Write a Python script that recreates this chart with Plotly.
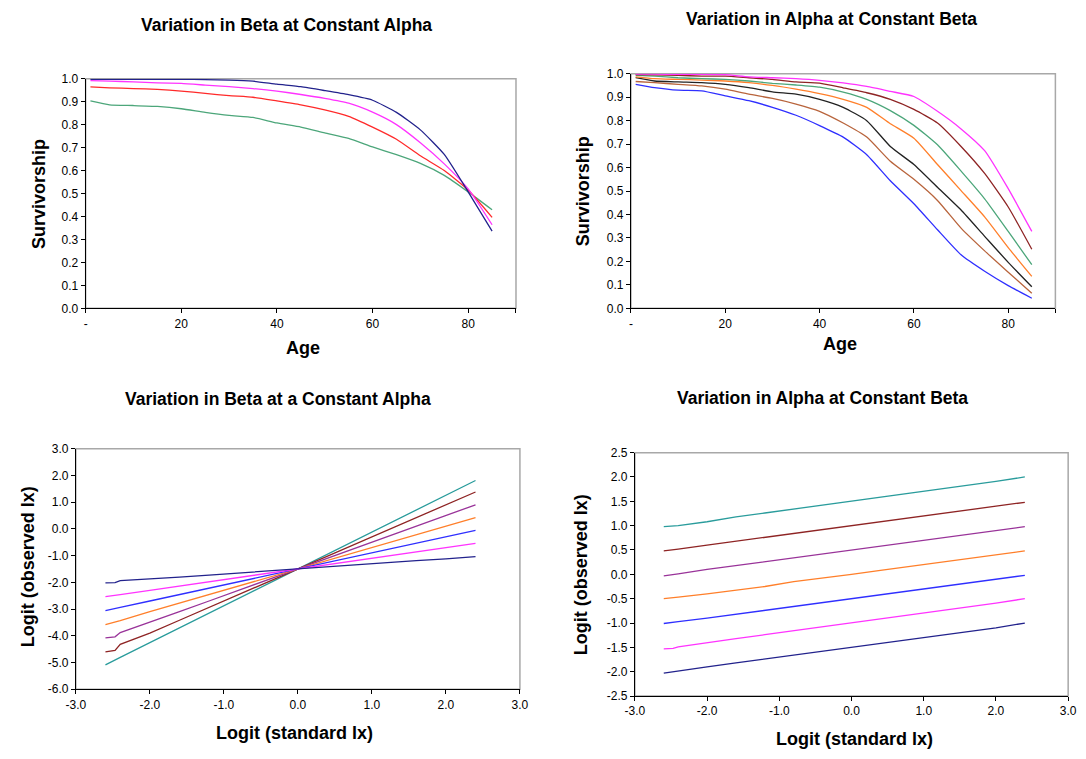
import plotly.graph_objects as go

W, H = 1086, 759

# ---------------- data ----------------
ages = [1, 5, 10, 15, 20, 25, 30, 35, 40, 45, 50, 55, 60, 65, 70, 75, 80, 85]

# Panel 1: Variation in Beta at Constant Alpha (survivorship)
tl_navy = [0.997, 0.997, 0.997, 0.997, 0.997, 0.996, 0.994, 0.989, 0.976, 0.965, 0.948, 0.930, 0.906, 0.853, 0.777, 0.670, 0.507, 0.336]
tl_magenta = [0.991, 0.989, 0.986, 0.982, 0.979, 0.972, 0.965, 0.957, 0.946, 0.931, 0.914, 0.893, 0.854, 0.800, 0.721, 0.629, 0.520, 0.364]
tl_red = [0.964, 0.960, 0.957, 0.953, 0.946, 0.936, 0.926, 0.919, 0.903, 0.886, 0.864, 0.836, 0.789, 0.736, 0.664, 0.600, 0.515, 0.396]
tl_green = [0.903, 0.886, 0.883, 0.879, 0.869, 0.853, 0.840, 0.831, 0.807, 0.789, 0.764, 0.740, 0.703, 0.669, 0.631, 0.579, 0.507, 0.429]

# Panel 2: Variation in Alpha at Constant Beta (survivorship)
tr_blue = [0.955, 0.941, 0.930, 0.927, 0.906, 0.885, 0.857, 0.823, 0.779, 0.730, 0.655, 0.544, 0.446, 0.335, 0.228, 0.158, 0.097, 0.043]
tr_brown = [0.967, 0.962, 0.955, 0.948, 0.934, 0.913, 0.895, 0.871, 0.840, 0.790, 0.730, 0.627, 0.550, 0.460, 0.342, 0.245, 0.154, 0.064]
tr_black = [0.983, 0.969, 0.965, 0.962, 0.955, 0.941, 0.923, 0.913, 0.891, 0.857, 0.800, 0.690, 0.613, 0.516, 0.419, 0.307, 0.196, 0.092]
tr_orange = [0.987, 0.979, 0.976, 0.973, 0.969, 0.962, 0.950, 0.934, 0.915, 0.891, 0.857, 0.787, 0.725, 0.613, 0.502, 0.390, 0.259, 0.136]
tr_green = [0.993, 0.990, 0.983, 0.979, 0.976, 0.969, 0.959, 0.952, 0.943, 0.922, 0.891, 0.843, 0.780, 0.697, 0.585, 0.467, 0.328, 0.186]
tr_darkred = [0.996, 0.995, 0.993, 0.990, 0.990, 0.983, 0.976, 0.965, 0.960, 0.940, 0.919, 0.891, 0.848, 0.790, 0.690, 0.575, 0.432, 0.252]
tr_magenta = [0.998, 0.998, 0.997, 0.997, 0.996, 0.987, 0.983, 0.979, 0.972, 0.961, 0.946, 0.925, 0.903, 0.840, 0.765, 0.672, 0.510, 0.328]

# Logit panels: standard logit values (x)
std_logit = [-2.6, -2.47, -2.4, -2.0, -1.6, -1.2, -0.8, -0.4, 0.0, 0.4, 0.8, 1.2, 1.6, 2.0, 2.4]

# Panel 3: Variation in Beta at a Constant Alpha
bl_navy = [-2.02, -2.01, -1.94, -1.88, -1.81, -1.73, -1.65, -1.57, -1.50, -1.42, -1.35, -1.27, -1.19, -1.12, -1.04]
bl_magenta = [-2.54, -2.50, -2.46, -2.30, -2.14, -1.98, -1.82, -1.66, -1.50, -1.34, -1.18, -1.02, -0.86, -0.70, -0.54]
bl_blue = [-3.06, -2.99, -2.94, -2.70, -2.46, -2.22, -1.98, -1.74, -1.50, -1.26, -1.02, -0.78, -0.54, -0.30, -0.06]
bl_orange = [-3.58, -3.49, -3.43, -3.10, -2.78, -2.46, -2.14, -1.82, -1.50, -1.18, -0.86, -0.54, -0.22, 0.10, 0.42]
bl_purple = [-4.08, -4.04, -3.88, -3.50, -3.10, -2.70, -2.30, -1.90, -1.50, -1.10, -0.70, -0.30, 0.10, 0.50, 0.90]
bl_darkred = [-4.60, -4.55, -4.32, -3.90, -3.42, -2.94, -2.46, -1.98, -1.50, -1.02, -0.54, -0.06, 0.42, 0.90, 1.38]
bl_teal = [-5.09, -4.90, -4.81, -4.26, -3.71, -3.16, -2.60, -2.05, -1.50, -0.95, -0.40, 0.16, 0.71, 1.26, 1.81]

# Panel 4: Variation in Alpha at Constant Beta
br_navy = [-2.03, -2.00, -1.98, -1.90, -1.82, -1.74, -1.66, -1.58, -1.50, -1.42, -1.34, -1.26, -1.18, -1.10, -1.00]
br_magenta = [-1.53, -1.52, -1.49, -1.40, -1.32, -1.24, -1.16, -1.08, -1.00, -0.92, -0.84, -0.76, -0.68, -0.59, -0.50]
br_blue = [-1.01, -0.99, -0.97, -0.90, -0.82, -0.74, -0.66, -0.58, -0.50, -0.42, -0.34, -0.26, -0.18, -0.10, -0.02]
br_orange = [-0.50, -0.49, -0.47, -0.40, -0.32, -0.25, -0.15, -0.08, 0.00, 0.08, 0.16, 0.24, 0.32, 0.40, 0.48]
br_purple = [-0.03, -0.01, 0.01, 0.10, 0.18, 0.26, 0.34, 0.42, 0.50, 0.58, 0.66, 0.74, 0.82, 0.90, 0.98]
br_darkred = [0.48, 0.50, 0.52, 0.60, 0.68, 0.76, 0.84, 0.92, 1.00, 1.08, 1.16, 1.24, 1.32, 1.40, 1.48]
br_teal = [0.98, 0.99, 1.00, 1.08, 1.18, 1.26, 1.34, 1.42, 1.50, 1.58, 1.66, 1.74, 1.82, 1.91, 2.00]

# tick labels
surv_ticks = [0.0, 0.1, 0.2, 0.3, 0.4, 0.5, 0.6, 0.7, 0.8, 0.9, 1.0]
surv_ticktext = ["0.0", "0.1", "0.2", "0.3", "0.4", "0.5", "0.6", "0.7", "0.8", "0.9", "1.0"]
age_ticks = [0, 20, 40, 60, 80, 90]
age_ticktext = ["-", "20", "40", "60", "80", ""]
logit_x_ticks = [-3, -2, -1, 0, 1, 2, 3]
logit_x_text = ["-3.0", "-2.0", "-1.0", "0.0", "1.0", "2.0", "3.0"]
bl_y_ticks = [-6, -5, -4, -3, -2, -1, 0, 1, 2, 3]
bl_y_text = ["-6.0", "-5.0", "-4.0", "-3.0", "-2.0", "-1.0", "0.0", "1.0", "2.0", "3.0"]
br_y_ticks = [-2.5, -2.0, -1.5, -1.0, -0.5, 0.0, 0.5, 1.0, 1.5, 2.0, 2.5]
br_y_text = ["-2.5", "-2.0", "-1.5", "-1.0", "-0.5", "0.0", "0.5", "1.0", "1.5", "2.0", "2.5"]

# ---------------- styling ----------------
FONT = "Liberation Sans, Arial, sans-serif"
C_NAVY = "#22228C"
C_MAGENTA = "#FF33FF"
C_RED = "#FF2A2A"
C_GREEN = "#4CA67A"
C_BLUE = "#2F2FFF"
C_BROWN = "#B8643C"
C_BLACK = "#222222"
C_ORANGE = "#FF7F2A"
C_DARKRED = "#8E2424"
C_PURPLE = "#993399"
C_TEAL = "#2A9C9C"
LW = 1.3


def px_x(p):
    return p / W


def px_y(p):
    return 1 - p / H


fig = go.Figure()


def add(xs, ys, color, ax, smooth=False):
    line = dict(color=color, width=LW)
    if smooth:
        line.update(shape="spline", smoothing=0.5)
    fig.add_trace(go.Scatter(x=xs, y=ys, mode="lines", line=line,
                             xaxis="x" + ax, yaxis="y" + ax, showlegend=False, hoverinfo="skip"))


for ys, c in [(tl_green, C_GREEN), (tl_red, C_RED), (tl_magenta, C_MAGENTA), (tl_navy, C_NAVY)]:
    add(ages, ys, c, "", True)
for ys, c in [(tr_blue, C_BLUE), (tr_brown, C_BROWN), (tr_black, C_BLACK), (tr_orange, C_ORANGE),
              (tr_green, C_GREEN), (tr_darkred, C_DARKRED), (tr_magenta, C_MAGENTA)]:
    add(ages, ys, c, "2", True)
for ys, c in [(bl_teal, C_TEAL), (bl_darkred, C_DARKRED), (bl_purple, C_PURPLE), (bl_orange, C_ORANGE),
              (bl_blue, C_BLUE), (bl_magenta, C_MAGENTA), (bl_navy, C_NAVY)]:
    add(std_logit, ys, c, "3")
for ys, c in [(br_teal, C_TEAL), (br_darkred, C_DARKRED), (br_purple, C_PURPLE), (br_orange, C_ORANGE),
              (br_blue, C_BLUE), (br_magenta, C_MAGENTA), (br_navy, C_NAVY)]:
    add(std_logit, ys, c, "4")

# panel geometry in pixels: (left, right, top, bottom)
panels = {
    "": (77, 515, 73, 307),
    "2": (632, 1064, 68, 307),
    "3": (67, 519, 450, 695),
    "4": (636, 1077, 454, 702),
}

axis_common = dict(showline=True, linecolor="black", linewidth=1, ticks="outside", ticklen=4,
                   tickcolor="black", tickwidth=1, showgrid=False, zeroline=False, fixedrange=True,
                   tickfont=dict(family=FONT, size=12, color="black"), tickmode="array")

xcfg = {
    "": dict(range=[0, 90], tickvals=age_ticks, ticktext=age_ticktext),
    "2": dict(range=[0, 90], tickvals=age_ticks, ticktext=age_ticktext),
    "3": dict(range=[-3, 3], tickvals=logit_x_ticks, ticktext=logit_x_text),
    "4": dict(range=[-3, 3], tickvals=logit_x_ticks, ticktext=logit_x_text),
}
ycfg = {
    "": dict(range=[0, 1], tickvals=surv_ticks, ticktext=surv_ticktext),
    "2": dict(range=[0, 1], tickvals=surv_ticks, ticktext=surv_ticktext),
    "3": dict(range=[-6, 3], tickvals=bl_y_ticks, ticktext=bl_y_text),
    "4": dict(range=[-2.5, 2.5], tickvals=br_y_ticks, ticktext=br_y_text),
}

layout = dict(width=W, height=H, margin=dict(l=0, r=0, t=0, b=0), paper_bgcolor="white",
              plot_bgcolor="white", showlegend=False)
shapes = []
for k, (l, r, t, b) in panels.items():
    xa = dict(axis_common, domain=[px_x(l), px_x(r)], anchor="y" + k, **xcfg[k])
    ya = dict(axis_common, domain=[px_y(b), px_y(t)], anchor="x" + k, **ycfg[k])
    layout["xaxis" + k] = xa
    layout["yaxis" + k] = ya
    shapes.append(dict(type="rect", xref="x" + k + " domain", yref="y" + k + " domain",
                       x0=0, x1=1, y0=0, y1=1, line=dict(color="#A8A8A8", width=1.5), layer="below"))
layout["shapes"] = shapes

annotations = []


def text(s, x, y, size, angle=0):
    annotations.append(dict(text="<b>" + s + "</b>", x=px_x(x), y=px_y(y), xref="paper", yref="paper",
                            showarrow=False, textangle=angle, xanchor="center", yanchor="middle",
                            font=dict(family=FONT, size=size, color="black")))


text("Variation in Beta at Constant Alpha", 281, 18, 17.5)
text("Variation in Alpha at Constant Beta", 836, 12, 17.5)
text("Variation in Beta at a Constant Alpha", 273, 399, 17.5)
text("Variation in Alpha at Constant Beta", 827, 398, 17.5)

text("Survivorship", 30, 190, 18, -90)
text("Age", 298, 347, 18)
text("Survivorship", 583, 188, 18, -90)
text("Age", 845, 343, 18)
text("Logit (observed lx)", 19, 570, 18, -90)
text("Logit (standard lx)", 290, 740, 18)
text("Logit (observed lx)", 582, 578, 18, -90)
text("Logit (standard lx)", 860, 746, 18)

layout["annotations"] = annotations
fig.update_layout(**layout)
fig.write_html("out.html")
